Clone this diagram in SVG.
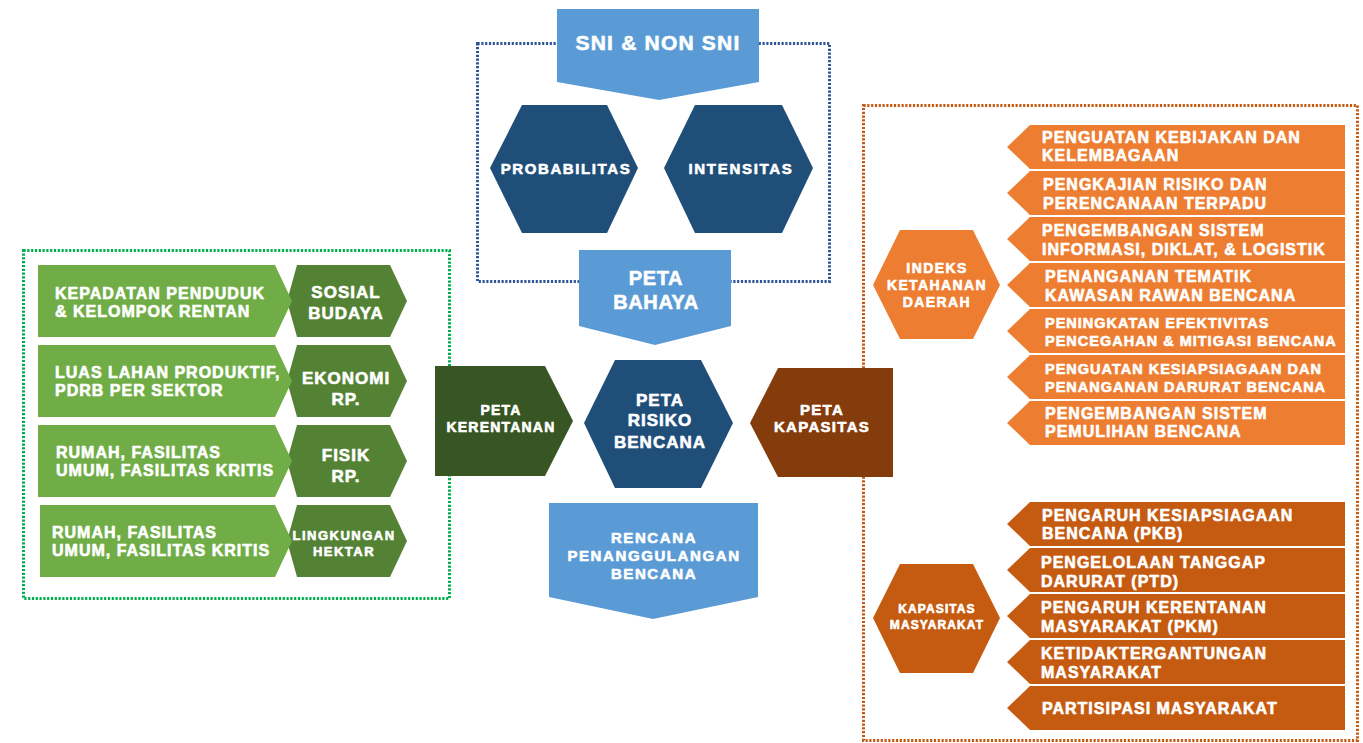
<svg xmlns="http://www.w3.org/2000/svg" width="1363" height="743" viewBox="0 0 1363 743">
<style>
text{font-family:"Liberation Sans",Arial,sans-serif;font-weight:bold;fill:#fff;stroke:#fff;stroke-width:0.6px;stroke-linejoin:round}
.lb{fill:#5b9bd5}.nv{fill:#1f4e79}.lg{fill:#70ad47}.dg{fill:#548235}.kg{fill:#375623}
.br{fill:#843c0c}.or{fill:#ed7d31}.do{fill:#c55a11}
.frame{fill:none;stroke-width:3;stroke-dasharray:2.2 1.6}
.t16{font-size:16px;letter-spacing:1px}
.t145{font-size:14.5px;letter-spacing:1px}
.t17{font-size:17px;letter-spacing:1px}
.mid{text-anchor:middle}
</style>
<rect width="1363" height="743" fill="#fff"/>
<g id="frames">
<rect class="frame" x="477.5" y="43.5" width="352" height="238" stroke="#2f5597"/>
<rect class="frame" x="23.5" y="250.5" width="426" height="348" stroke="#00b050"/>
<rect class="frame" x="863.5" y="105.5" width="494" height="635" stroke="#c55a11"/>
</g>
<g id="connectors"></g>
<g id="sni">
<polygon class="lb" points="557,9 759,9 759,82 659,100 557,82"/>
<text class="mid" x="658" y="50" font-size="21" letter-spacing="1.2">SNI &amp; NON SNI</text>
</g>
<g id="probabilitas">
<polygon class="nv" points="490,168 522,105 607,105 638,168 607,233 522,233"/>
<text class="mid" x="566" y="173.5" font-size="15" letter-spacing="1.6">PROBABILITAS</text>
</g>
<g id="intensitas">
<polygon class="nv" points="664,168 695,105 782,105 813,168 782,233 695,233"/>
<text class="mid" x="741" y="173.5" font-size="15" letter-spacing="1.7">INTENSITAS</text>
</g>
<g id="peta-bahaya">
<polygon class="lb" points="579,250 731,250 731,326 655,345 579,326"/>
<text class="mid" x="656" y="285" font-size="20" letter-spacing="0.6">PETA</text>
<text class="mid" x="656" y="309" font-size="20" letter-spacing="0.6">BAHAYA</text>
</g>
<g id="row-sosial">
<polygon class="dg" points="287,301 297,265 390,265 407,301 390,337 297,337"/>
<polygon class="lg" points="38,265 275,265 292,301 275,337 38,337"/>
<text class="t16" x="55" y="299">KEPADATAN PENDUDUK</text>
<text class="t16" x="55" y="317">&amp; KELOMPOK RENTAN</text>
<text class="t17 mid" x="346" y="298">SOSIAL</text>
<text class="t17 mid" x="346" y="319">BUDAYA</text>
</g>
<g id="row-ekonomi">
<polygon class="dg" points="287,381 297,345 390,345 407,381 390,417 297,417"/>
<polygon class="lg" points="38,345 275,345 292,381 275,417 38,417"/>
<text class="t16" x="55" y="378">LUAS LAHAN PRODUKTIF,</text>
<text class="t16" x="55" y="396">PDRB PER SEKTOR</text>
<text class="t17 mid" x="346" y="384">EKONOMI</text>
<text class="t17 mid" x="346" y="405">RP.</text>
</g>
<g id="row-fisik">
<polygon class="dg" points="287,461 297,425 390,425 407,461 390,497 297,497"/>
<polygon class="lg" points="38,425 275,425 292,461 275,497 38,497"/>
<text class="t16" x="56" y="458">RUMAH, FASILITAS</text>
<text class="t16" x="56" y="476">UMUM, FASILITAS KRITIS</text>
<text class="t17 mid" x="346" y="461">FISIK</text>
<text class="t17 mid" x="346" y="482">RP.</text>
</g>
<g id="row-lingkungan">
<polygon class="dg" points="287,541 297,505 390,505 407,541 390,577 297,577"/>
<polygon class="lg" points="40,505 275,505 292,541 275,577 40,577"/>
<text class="t16" x="52" y="538">RUMAH, FASILITAS</text>
<text class="t16" x="52" y="556">UMUM, FASILITAS KRITIS</text>
<text class="mid" x="344" y="540" font-size="13" letter-spacing="1.5">LINGKUNGAN</text>
<text class="mid" x="344" y="556" font-size="13" letter-spacing="1.5">HEKTAR</text>
</g>
<g id="peta-kerentanan">
<polygon class="kg" points="435,366 545,366 573,421 545,476 435,476"/>
<text class="mid" x="501" y="415" font-size="14" letter-spacing="1.2">PETA</text>
<text class="mid" x="501" y="432" font-size="14" letter-spacing="1.2">KERENTANAN</text>
</g>
<g id="peta-risiko">
<polygon class="nv" points="584,423 615,360 701,360 733,423 701,488 615,488"/>
<text class="t17 mid" x="660" y="406">PETA</text>
<text class="t17 mid" x="660" y="426">RISIKO</text>
<text class="t17 mid" x="660" y="448">BENCANA</text>
</g>
<g id="peta-kapasitas">
<polygon class="br" points="750,423 778,368 893,368 893,477 778,477"/>
<text class="mid" x="822" y="415" font-size="15" letter-spacing="1.3">PETA</text>
<text class="mid" x="822" y="432" font-size="15" letter-spacing="1.3">KAPASITAS</text>
</g>
<g id="rencana">
<polygon class="lb" points="549,503 758,503 758,597 653,619 549,597"/>
<text class="mid" x="654" y="542.5" font-size="15" letter-spacing="1.6">RENCANA</text>
<text class="mid" x="654" y="560.5" font-size="15" letter-spacing="1.6">PENANGGULANGAN</text>
<text class="mid" x="654" y="578.5" font-size="15" letter-spacing="1.6">BENCANA</text>
</g>
<g id="indeks-ketahanan">
<polygon class="or" points="873,285 900,230 973,230 1000,285 973,339 900,339"/>
<text class="mid" x="937" y="273" font-size="14" letter-spacing="1.4">INDEKS</text>
<text class="mid" x="937" y="290" font-size="14" letter-spacing="1.4">KETAHANAN</text>
<text class="mid" x="937" y="307" font-size="14" letter-spacing="1.4">DAERAH</text>
</g>
<g id="ik1"><polygon class="or" points="1007,147 1030,125 1345,125 1345,169 1030,169"/>
<text class="t16" x="1042" y="143">PENGUATAN KEBIJAKAN DAN</text><text class="t16" x="1042" y="161">KELEMBAGAAN</text></g>
<g id="ik2"><polygon class="or" points="1007,193 1030,171 1345,171 1345,215 1030,215"/>
<text class="t16" x="1043" y="190">PENGKAJIAN RISIKO DAN</text><text class="t16" x="1043" y="209">PERENCANAAN TERPADU</text></g>
<g id="ik3"><polygon class="or" points="1007,239 1030,217 1345,217 1345,261 1030,261"/>
<text class="t16" x="1042" y="236">PENGEMBANGAN SISTEM</text><text class="t16" x="1042" y="255">INFORMASI, DIKLAT, &amp; LOGISTIK</text></g>
<g id="ik4"><polygon class="or" points="1007,285 1030,263 1345,263 1345,307 1030,307"/>
<text class="t16" x="1045" y="282">PENANGANAN TEMATIK</text><text class="t16" x="1045" y="301">KAWASAN RAWAN BENCANA</text></g>
<g id="ik5"><polygon class="or" points="1007,331 1030,309 1345,309 1345,353 1030,353"/>
<text class="t145" x="1045" y="328">PENINGKATAN EFEKTIVITAS</text><text class="t145" x="1045" y="346">PENCEGAHAN &amp; MITIGASI BENCANA</text></g>
<g id="ik6"><polygon class="or" points="1007,377 1030,355 1345,355 1345,399 1030,399"/>
<text class="t145" x="1045" y="374">PENGUATAN KESIAPSIAGAAN DAN</text><text class="t145" x="1045" y="392">PENANGANAN DARURAT BENCANA</text></g>
<g id="ik7"><polygon class="or" points="1007,423 1030,401 1345,401 1345,445 1030,445"/>
<text class="t16" x="1045" y="419">PENGEMBANGAN SISTEM</text><text class="t16" x="1045" y="437">PEMULIHAN BENCANA</text></g>
<g id="kapasitas-masyarakat">
<polygon class="do" points="873,618 900,564 973,564 1000,618 973,673 900,673"/>
<text class="mid" x="937" y="613" font-size="12" letter-spacing="1.1">KAPASITAS</text>
<text class="mid" x="937" y="629" font-size="12" letter-spacing="1.1">MASYARAKAT</text>
</g>
<g id="km1"><polygon class="do" points="1007,524 1030,502 1345,502 1345,546 1030,546"/>
<text class="t16" x="1042" y="521">PENGARUH KESIAPSIAGAAN</text><text class="t16" x="1042" y="539">BENCANA (PKB)</text></g>
<g id="km2"><polygon class="do" points="1007,570 1030,548 1345,548 1345,592 1030,592"/>
<text class="t16" x="1041" y="568">PENGELOLAAN TANGGAP</text><text class="t16" x="1041" y="587">DARURAT (PTD)</text></g>
<g id="km3"><polygon class="do" points="1007,616 1030,594 1345,594 1345,638 1030,638"/>
<text class="t16" x="1041" y="613">PENGARUH KERENTANAN</text><text class="t16" x="1041" y="632">MASYARAKAT (PKM)</text></g>
<g id="km4"><polygon class="do" points="1007,662 1030,640 1345,640 1345,684 1030,684"/>
<text class="t16" x="1041" y="659">KETIDAKTERGANTUNGAN</text><text class="t16" x="1041" y="678">MASYARAKAT</text></g>
<g id="km5"><polygon class="do" points="1007,708 1030,686 1345,686 1345,730 1030,730"/>
<text class="t16" x="1042" y="714">PARTISIPASI MASYARAKAT</text></g>
</svg>
